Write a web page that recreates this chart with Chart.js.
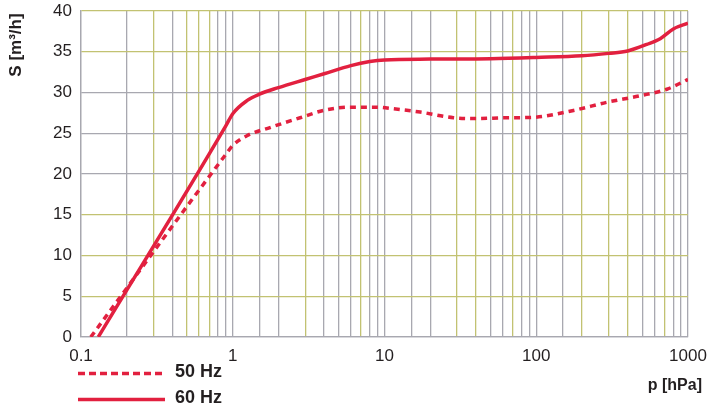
<!DOCTYPE html>
<html>
<head>
<meta charset="utf-8">
<script src="https://cdn.jsdelivr.net/npm/chart.js@4.4.0/dist/chart.umd.min.js"></script>
<style>
  html, body { margin: 0; padding: 0; background: #fff; }
  #wrap { width: 709px; height: 408px; }
</style>
</head>
<body>
<div id="wrap"><canvas id="chart"></canvas></div>
<script>
// pressure p [hPa] and pumping speed S [m3/h]
const p50 = [0.116, 0.9, 1.0, 1.24, 1.76, 2.78, 3.96, 5.9, 8.9, 11.5, 17.2, 28.5, 40, 64, 95, 176, 292, 484, 726, 1000];
const s50 = [0, 22.4, 23.5, 24.7, 25.7, 26.9, 27.8, 28.2, 28.2, 28.0, 27.6, 26.9, 26.8, 26.9, 26.95, 27.8, 28.8, 29.6, 30.4, 31.6];

const p60 = [0.13, 0.9, 1.0, 1.24, 1.5, 2.0, 3.0, 4.0, 6.0, 8.0, 10, 20, 50, 100, 200, 300, 400, 535, 656, 800, 1000];
const s60 = [0, 25.9, 27.4, 29.0, 29.8, 30.6, 31.6, 32.3, 33.3, 33.8, 34.0, 34.1, 34.15, 34.3, 34.5, 34.8, 35.1, 35.9, 36.6, 37.8, 38.5];

const xTickLabels = ['0.1', '1', '10', '100', '1000'];
const seriesNames = ['50 Hz', '60 Hz'];

// grid lines drawn in olive instead of grey
const oliveX = [0.3, 0.5, 0.6, 0.7, 3, 7, 30, 40, 70, 200, 300, 400, 700];
const oliveY = [5, 10, 15, 35, 40];

const RED = '#e2203f';
const GREY = '#a8a8b0';
const OLIVE = '#c2c272';
const TEXT = '#231f20';

function near(list, v) {
  return list.some(a => Math.abs(a - v) / a < 1e-6);
}

const overlay = {
  id: 'overlay',
  afterDraw(chart) {
    const ctx = chart.ctx;
    ctx.save();
    ctx.fillStyle = TEXT;
    ctx.textBaseline = 'middle';

    // y title
    ctx.font = 'bold 17px "Liberation Sans", Arial, sans-serif';
    ctx.save();
    ctx.translate(16, 45);
    ctx.rotate(-Math.PI / 2);
    ctx.textAlign = 'center';
    ctx.fillText('S [m³/h]', 0, 0);
    ctx.restore();

    // x title
    ctx.font = 'bold 16px "Liberation Sans", Arial, sans-serif';
    ctx.textAlign = 'right';
    ctx.fillText('p [hPa]', 702, 386);

    // legend
    ctx.strokeStyle = RED;
    ctx.lineWidth = 3.5;
    ctx.setLineDash([7, 4]);
    ctx.beginPath(); ctx.moveTo(78, 373.5); ctx.lineTo(165, 373.5); ctx.stroke();
    ctx.setLineDash([]);
    ctx.beginPath(); ctx.moveTo(78, 399.5); ctx.lineTo(165, 399.5); ctx.stroke();
    ctx.font = 'bold 18px "Liberation Sans", Arial, sans-serif';
    ctx.textAlign = 'left';
    ctx.fillText(seriesNames[0], 175, 372);
    ctx.fillText(seriesNames[1], 175, 398);
    ctx.restore();
  }
};

new Chart(document.getElementById('chart'), {
  type: 'line',
  data: {
    datasets: [{
      label: seriesNames[0],
      data: p50.map((p, i) => ({ x: p, y: s50[i] })),
      borderColor: RED,
      borderWidth: 3.5,
      borderDash: [6, 5],
      pointRadius: 0,
      cubicInterpolationMode: 'monotone'
    }, {
      label: seriesNames[1],
      data: p60.map((p, i) => ({ x: p, y: s60[i] })),
      borderColor: RED,
      borderWidth: 3.5,
      pointRadius: 0,
      cubicInterpolationMode: 'monotone'
    }]
  },
  options: {
    responsive: true,
    maintainAspectRatio: false,
    animation: false,
    layout: { padding: { left: 0, right: 21, top: 11, bottom: 0 } },
    plugins: {
      legend: { display: false },
      tooltip: { enabled: false }
    },
    scales: {
      x: {
        type: 'logarithmic',
        min: 0.1,
        max: 1000,
        afterFit: s => { s.height = 71; s.paddingLeft = 0; s.paddingRight = 0; },
        grid: {
          drawTicks: false,
          lineWidth: 1.3,
          color: c => near(oliveX, c.tick.value) ? OLIVE : GREY
        },
        border: { color: GREY, width: 1.3 },
        ticks: {
          autoSkip: false,
          maxRotation: 0,
          padding: 9,
          color: TEXT,
          font: { family: '"Liberation Sans", Arial, sans-serif', size: 17 },
          callback: v => {
            const e = Math.log10(v);
            if (Math.abs(e - Math.round(e)) < 1e-6) return xTickLabels[Math.round(e) + 1];
            return '';
          }
        }
      },
      y: {
        min: 0,
        max: 40,
        afterFit: s => { s.width = 81; s.paddingTop = 0; s.paddingBottom = 0; },
        grid: {
          drawTicks: false,
          lineWidth: 1.3,
          color: c => near(oliveY, c.tick.value) ? OLIVE : GREY
        },
        border: { color: GREY, width: 1.3 },
        ticks: {
          stepSize: 5,
          padding: 9,
          color: TEXT,
          font: { family: '"Liberation Sans", Arial, sans-serif', size: 17 }
        }
      }
    }
  },
  plugins: [overlay]
});
</script>
</body>
</html>
